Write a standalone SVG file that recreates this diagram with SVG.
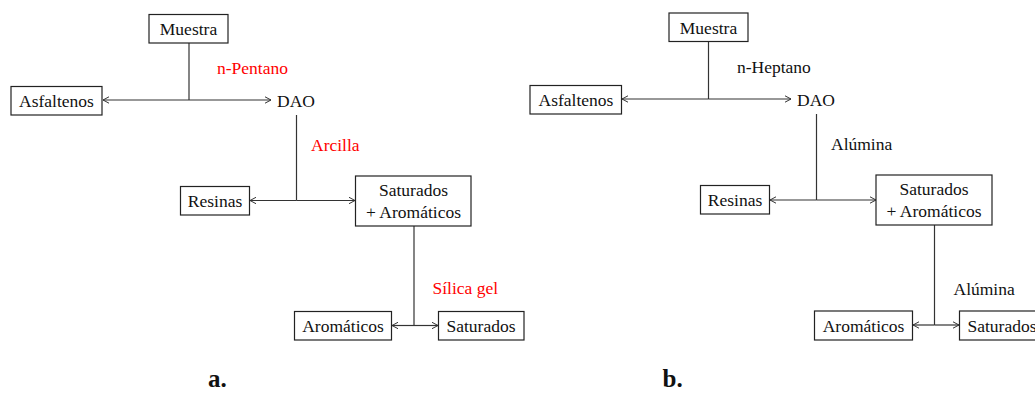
<svg xmlns="http://www.w3.org/2000/svg" width="1035" height="399" viewBox="0 0 1035 399">
<style>
.box{fill:#fff;stroke:#222;stroke-width:1.2}
.t{font-family:'Liberation Serif','Times New Roman',Tinos,Times,'DejaVu Serif',serif;font-size:17.5px;fill:#111;text-anchor:middle}
.r{fill:#ff0000}
.l{text-anchor:start}
.c{stroke:#333;stroke-width:1.2;fill:none}
.lab{font-family:'Liberation Serif','Times New Roman',Tinos,Times,serif;font-size:25px;font-weight:bold;fill:#111}
</style>
<defs>
<marker id="ah" viewBox="0 0 8 8" refX="7" refY="4" markerWidth="8" markerHeight="8" markerUnits="userSpaceOnUse" orient="auto-start-reverse">
<path d="M1,0.8 L7,4 L1,7.2" fill="none" stroke="#333" stroke-width="1"/>
</marker>
</defs>
<g id="connectors">
<path class="c" d="M189,43 V100"/>
<path class="c" d="M189,100 H103" marker-end="url(#ah)"/>
<path class="c" d="M189,100 H271" marker-end="url(#ah)"/>
<path class="c" d="M296.5,115 V200.5"/>
<path class="c" d="M296.5,200.5 H250" marker-end="url(#ah)"/>
<path class="c" d="M296.5,200.5 H355" marker-end="url(#ah)"/>
<path class="c" d="M414,226 V325.5"/>
<path class="c" d="M414,325.5 H392" marker-end="url(#ah)"/>
<path class="c" d="M414,325.5 H438" marker-end="url(#ah)"/>
<path class="c" d="M708.5,41.5 V99"/>
<path class="c" d="M708.5,99 H622" marker-end="url(#ah)"/>
<path class="c" d="M708.5,99 H791" marker-end="url(#ah)"/>
<path class="c" d="M816.5,114 V200"/>
<path class="c" d="M816.5,200 H770" marker-end="url(#ah)"/>
<path class="c" d="M816.5,200 H876" marker-end="url(#ah)"/>
<path class="c" d="M934.5,225 V325"/>
<path class="c" d="M934.5,325 H913" marker-end="url(#ah)"/>
<path class="c" d="M934.5,325 H959" marker-end="url(#ah)"/>
</g>
<g id="a_muestra"><rect class="box" x="149" y="14.5" width="79" height="28.5"/><text class="t" x="188.5" y="35">Muestra</text></g>
<g id="a_asfaltenos"><rect class="box" x="11" y="86.5" width="91" height="28.5"/><text class="t" x="56.5" y="107">Asfaltenos</text></g>
<g id="a_dao"><text class="t" x="296" y="106.5">DAO</text></g>
<g id="a_pentano"><text class="t r l" x="217" y="74">n-Pentano</text></g>
<g id="a_arcilla"><text class="t r l" x="311" y="151">Arcilla</text></g>
<g id="a_resinas"><rect class="box" x="180.5" y="186.5" width="69" height="28.5"/><text class="t" x="215" y="207">Resinas</text></g>
<g id="a_satarom"><rect class="box" x="355.5" y="176" width="115.5" height="50"/><text class="t" x="413.5" y="196">Saturados</text><text class="t" x="413.5" y="217.5">+ Aromáticos</text></g>
<g id="a_silica"><text class="t r l" x="432.5" y="293.5">Sílica gel</text></g>
<g id="a_aromaticos"><rect class="box" x="294.5" y="311.5" width="97" height="28.5"/><text class="t" x="343" y="332">Aromáticos</text></g>
<g id="a_saturados"><rect class="box" x="438.5" y="311.5" width="85.5" height="28.5"/><text class="t" x="481" y="332">Saturados</text></g>
<g id="b_muestra"><rect class="box" x="669" y="13" width="79" height="28.5"/><text class="t" x="708.5" y="33.5">Muestra</text></g>
<g id="b_asfaltenos"><rect class="box" x="530" y="85.5" width="91.5" height="28.5"/><text class="t" x="576" y="106">Asfaltenos</text></g>
<g id="b_dao"><text class="t" x="816" y="105.5">DAO</text></g>
<g id="b_heptano"><text class="t l" x="737" y="72.5">n-Heptano</text></g>
<g id="b_alumina1"><text class="t l" x="831" y="150">Alúmina</text></g>
<g id="b_resinas"><rect class="box" x="700.5" y="185.5" width="69" height="28.5"/><text class="t" x="735" y="206">Resinas</text></g>
<g id="b_satarom"><rect class="box" x="876" y="175" width="116" height="50"/><text class="t" x="934" y="195">Saturados</text><text class="t" x="934" y="216.5">+ Aromáticos</text></g>
<g id="b_alumina2"><text class="t l" x="953.5" y="294.5">Alúmina</text></g>
<g id="b_aromaticos"><rect class="box" x="814.5" y="311" width="98" height="29"/><text class="t" x="863.5" y="331.5">Aromáticos</text></g>
<g id="b_saturados"><rect class="box" x="959.5" y="311" width="86" height="29"/><text class="t" x="1002" y="331.5">Saturados</text></g>
<text class="lab" x="208" y="386.5">a.</text>
<text class="lab" x="662.5" y="386.5">b.</text>
</svg>
